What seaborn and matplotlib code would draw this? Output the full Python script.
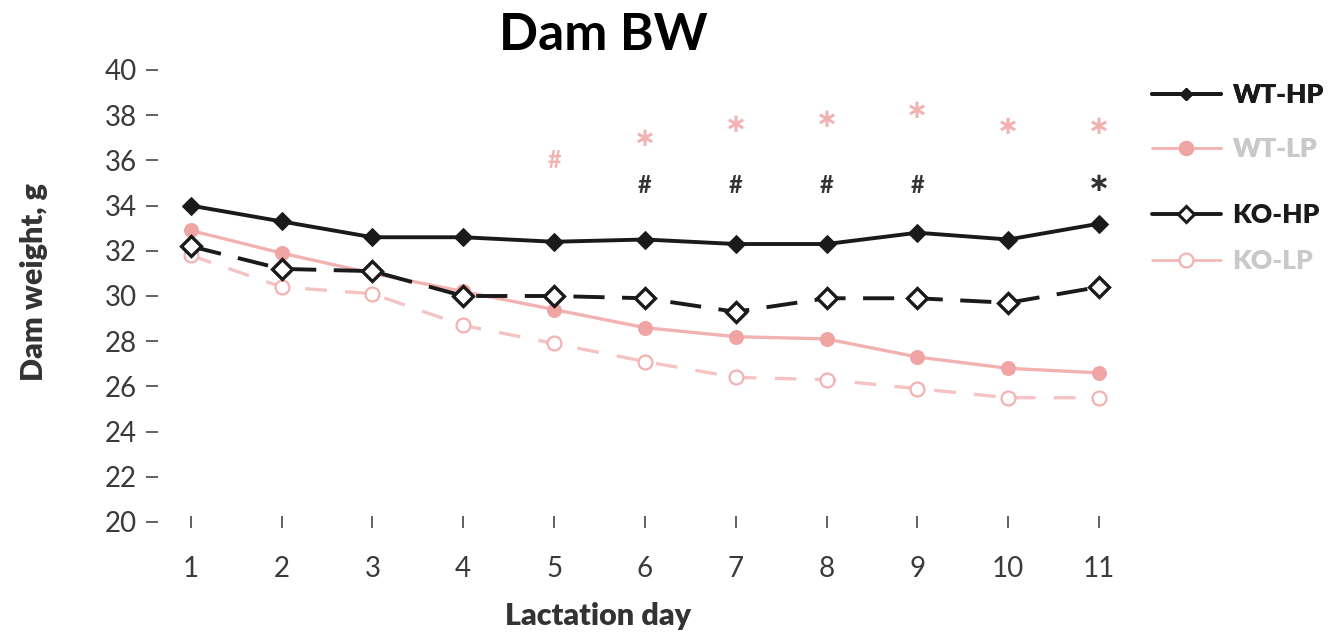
import pandas as pd
import matplotlib
matplotlib.use("Agg")
import matplotlib.pyplot as plt
import seaborn as sns
from matplotlib.lines import Line2D

# data
days = [1, 2, 3, 4, 5, 6, 7, 8, 9, 10, 11]
wt_hp = [34.0, 33.3, 32.6, 32.6, 32.4, 32.5, 32.3, 32.3, 32.8, 32.5, 33.2]
wt_lp = [32.9, 31.9, 31.0, 30.2, 29.4, 28.6, 28.2, 28.1, 27.3, 26.8, 26.6]
ko_hp = [32.2, 31.2, 31.1, 30.0, 30.0, 29.9, 29.3, 29.9, 29.9, 29.7, 30.4]
ko_lp = [31.8, 30.4, 30.1, 28.7, 27.9, 27.1, 26.4, 26.3, 25.9, 25.5, 25.5]

# significance marks
pink_mark_days = [5, 6, 7, 8, 9, 10, 11]
pink_mark_y = [36.0, 37.1, 37.7, 37.9, 38.3, 37.6, 37.6]
pink_mark_txt = ["#", "*", "*", "*", "*", "*", "*"]
black_mark_days = [6, 7, 8, 9, 11]
black_mark_y = [34.9, 34.9, 34.9, 34.9, 35.1]
black_mark_txt = ["#", "#", "#", "#", "*"]

labels = ["WT-HP", "WT-LP", "KO-HP", "KO-LP"]

BLACK = "#1a1a1a"
PINK = "#f2b2b2"
PINK_LIGHT = "#f5c3c3"
GREY_TXT = "#c9c9c9"

sns.set_style("white")
plt.rcParams["font.family"] = ["Lato", "DejaVu Sans"]

fig = plt.figure(figsize=(13.39, 6.36), dpi=100)
ax = fig.add_axes([158 / 1339, 1 - 522 / 636, (1120 - 158) / 1339, (522 - 70) / 636])

df = pd.DataFrame({"day": days, "WT-HP": wt_hp, "WT-LP": wt_lp,
                   "KO-HP": ko_hp, "KO-LP": ko_lp})

# pink (LP) first, black on top
sns.lineplot(data=df, x="day", y="KO-LP", ax=ax, color=PINK_LIGHT, lw=2.4,
             linestyle=(0, (6.5, 5.5)), marker="o", markersize=10,
             markerfacecolor="white", markeredgecolor=PINK, markeredgewidth=1.6)
sns.lineplot(data=df, x="day", y="WT-LP", ax=ax, color=PINK, lw=2.4,
             marker="o", markersize=10, markerfacecolor="#f0a4a4",
             markeredgecolor="#f0a4a4")
sns.lineplot(data=df, x="day", y="KO-HP", ax=ax, color=BLACK, lw=2.8,
             linestyle=(0, (8, 4.5)), marker="D", markersize=10.5,
             markerfacecolor="white", markeredgecolor=BLACK, markeredgewidth=2.4)
sns.lineplot(data=df, x="day", y="WT-HP", ax=ax, color=BLACK, lw=2.8,
             marker="D", markersize=9.5, markerfacecolor=BLACK,
             markeredgecolor=BLACK)


def mark(d, y, t, color):
    if t == "*":
        ax.text(d, y, "\u2217", color=color, fontsize=19, ha="center",
                va="center_baseline", family="DejaVu Sans", fontweight="bold")
    else:
        ax.text(d, y, t, color=color, fontsize=17, ha="center", va="center",
                fontweight="bold")


for d, y, t in zip(pink_mark_days, pink_mark_y, pink_mark_txt):
    mark(d, y, t, PINK)
for d, y, t in zip(black_mark_days, black_mark_y, black_mark_txt):
    mark(d, y, t, "#333333")

ax.set_xlim(0.64, 11.23)
ax.set_ylim(20, 40)
ax.set_xticks(days)
ax.set_yticks(range(20, 41, 2))
sns.despine(ax=ax, left=True, bottom=True)
ax.tick_params(axis="y", direction="out", length=9, width=1.3, color="#555555",
               labelsize=20, labelcolor="#3a3a3a", pad=6, left=True)
ax.tick_params(axis="x", direction="inout", length=9, width=1.3, color="#555555",
               labelsize=20, labelcolor="#3a3a3a", pad=20, bottom=True)
ax.set_xlabel("Lactation day", fontsize=22, fontweight="heavy", color="#333333")
ax.set_ylabel("Dam weight, g", fontsize=22, fontweight="heavy", color="#333333")
ax.xaxis.set_label_coords((598 - 158) / (1120 - 158), -(602 - 522) / (522 - 70))
ax.yaxis.set_label_coords(-(158 - 48) / (1120 - 158), (522 - 282) / (522 - 70))
ax.grid(False)

fig.text(603 / 1339, 1 - 36 / 636, "Dam BW", fontsize=37, fontweight="bold",
         ha="center", va="center", color="black")

handles = [
    Line2D([], [], color=BLACK, lw=2.8, marker="D", markersize=6.5,
           markerfacecolor=BLACK),
    Line2D([], [], color=PINK, lw=1.8, marker="o", markersize=10,
           markerfacecolor="#f0a4a4", markeredgecolor="#f0a4a4"),
    Line2D([], [], color=BLACK, lw=2.8, marker="D", markersize=8,
           markerfacecolor="white", markeredgewidth=2.2),
    Line2D([], [], color=PINK, lw=1.8, marker="o", markersize=10,
           markerfacecolor="white", markeredgecolor=PINK, markeredgewidth=1.6),
]
leg_kw = dict(loc="upper left", frameon=False, prop={"weight": "heavy", "size": 19},
              handlelength=2.6, handletextpad=0.45,
              borderpad=0, borderaxespad=0)
leg1 = fig.legend(handles[:2], labels[:2],
                  bbox_to_anchor=(1152 / 1339, 1 - 83 / 636),
                  labelcolor=[BLACK, GREY_TXT], labelspacing=1.15, **leg_kw)
fig.legend(handles[2:], labels[2:],
           bbox_to_anchor=(1152 / 1339, 1 - 203 / 636),
           labelcolor=[BLACK, GREY_TXT], labelspacing=0.85, **leg_kw)
fig.add_artist(leg1)

fig.savefig("out.png", dpi=100)
